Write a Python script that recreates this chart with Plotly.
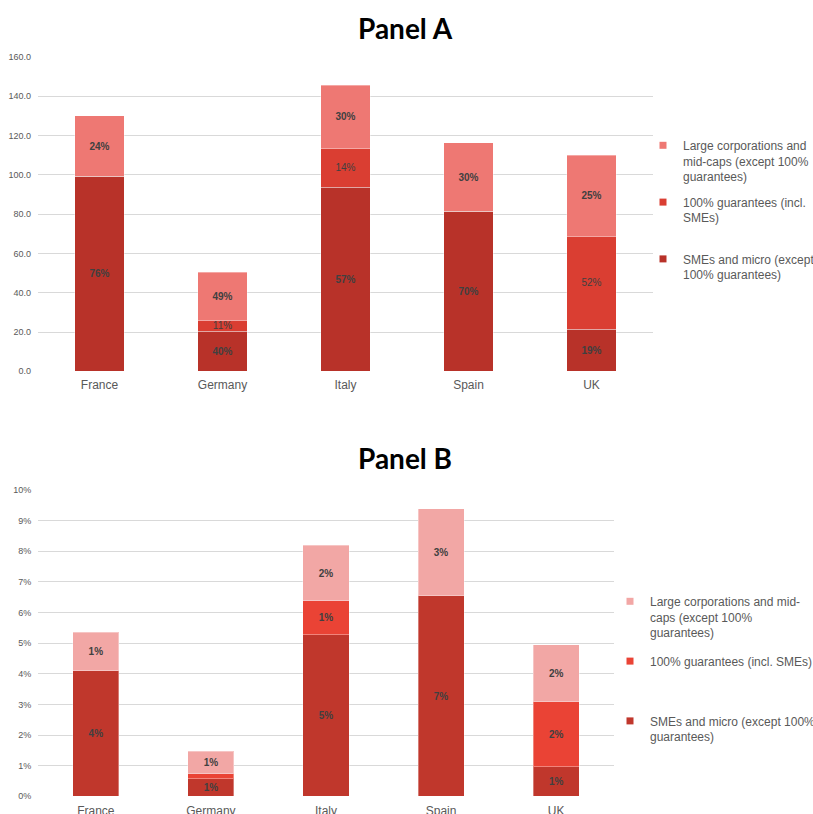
import plotly.graph_objects as go

# Categories
countries = ["France", "Germany", "Italy", "Spain", "UK"]

# Panel A: amounts by segment (EUR bn)
a_sme = [99.2, 20.4, 93.8, 81.5, 21.4]
a_full = [0.0, 5.4, 19.6, 0.0, 47.2]
a_large = [30.8, 24.6, 32.3, 34.8, 41.3]
a_sme_lbl = ["76%", "40%", "57%", "70%", "19%"]
a_full_lbl = ["", "11%", "14%", "", "52%"]
a_large_lbl = ["24%", "49%", "30%", "30%", "25%"]

# Panel B: shares of GDP
b_sme = [0.0410, 0.0057, 0.0528, 0.0654, 0.0097]
b_full = [0.0, 0.0017, 0.0110, 0.0, 0.0212]
b_large = [0.0125, 0.0073, 0.0182, 0.0284, 0.0186]
b_sme_lbl = ["4%", "1%", "5%", "7%", "1%"]
b_full_lbl = ["", "", "1%", "", "2%"]
b_large_lbl = ["1%", "1%", "2%", "3%", "2%"]

# Series names
a_names = ["Large corporations and<br>mid-caps (except 100%<br>guarantees)",
           "100% guarantees (incl.<br>SMEs)<br> ",
           "SMEs and micro (except<br>100% guarantees)<br> "]
b_names = ["Large corporations and mid-<br>caps (except 100%<br>guarantees)",
           "100% guarantees (incl. SMEs)<br> <br> ",
           "SMEs and micro (except 100%<br>guarantees)<br> "]

a_colors = {"sme": "#B83229", "full": "#DA3E32", "large": "#EE7873"}
b_colors = {"sme": "#C0372C", "full": "#EA4335", "large": "#F2A7A5"}

GRID = "#D9D9D9"
TXT = "#595959"
LBL = "#404040"
FONT = "Liberation Sans, Arial, sans-serif"

fig = go.Figure()


def add_bar(y, labels, color, xa, ya, bold=True):
    fig.add_trace(go.Bar(
        x=countries, y=y, text=labels, xaxis=xa, yaxis=ya,
        marker=dict(color=color, line=dict(color="rgba(255,255,255,0.35)", width=1)),
        textposition="inside", insidetextanchor="middle", textangle=0,
        constraintext="none",
        insidetextfont=dict(family=FONT, size=10, color=LBL,
                            weight="bold" if bold else "normal"),
        showlegend=False, hoverinfo="skip",
    ))


# Panel A bars (bottom to top)
add_bar(a_sme, a_sme_lbl, a_colors["sme"], "x", "y")
add_bar(a_full, a_full_lbl, a_colors["full"], "x", "y", bold=False)
add_bar(a_large, a_large_lbl, a_colors["large"], "x", "y")

# Panel B bars
add_bar(b_sme, b_sme_lbl, b_colors["sme"], "x2", "y2")
add_bar(b_full, b_full_lbl, b_colors["full"], "x2", "y2")
add_bar(b_large, b_large_lbl, b_colors["large"], "x2", "y2")


# Legend entries with small square swatches
def add_key(name, color, legend, group, xa, ya):
    fig.add_trace(go.Scatter(
        x=[None], y=[None], mode="markers", name=name, xaxis=xa, yaxis=ya,
        marker=dict(symbol="square", size=7, color=color),
        legend=legend, legendgroup=group, showlegend=True, hoverinfo="skip",
    ))


for name, key in zip(a_names, ["large", "full", "sme"]):
    add_key(name, a_colors[key], "legend", "a_" + key, "x", "y")
for name, key in zip(b_names, ["large", "full", "sme"]):
    add_key(name, b_colors[key], "legend2", "b_" + key, "x2", "y2")

W, H = 813, 814

axis_common = dict(showgrid=True, gridcolor=GRID, gridwidth=1, zeroline=False,
                   showline=False, ticks="", fixedrange=True)

legend_common = dict(
    font=dict(family=FONT, size=12, color=TXT),
    bgcolor="rgba(0,0,0,0)", borderwidth=0, xanchor="left", yanchor="top",
    traceorder="grouped", valign="top", itemwidth=30,
)

fig.update_layout(
    width=W, height=H,
    margin=dict(l=0, r=0, t=0, b=0, autoexpand=False),
    paper_bgcolor="white", plot_bgcolor="white",
    barmode="stack", bargap=0.6,
    showlegend=True,
    xaxis=dict(domain=[38 / W, 653 / W], anchor="y", showgrid=False,
               tickfont=dict(family=FONT, size=12, color=TXT), automargin=False,
               ticks="", showline=False, zeroline=False, ticklabelstandoff=5),
    yaxis=dict(domain=[1 - 371.3 / H, 1 - 57 / H], anchor="x", range=[0, 160],
               dtick=20, tickformat=".1f", automargin=False,
               tickfont=dict(family=FONT, size=9, color=TXT), ticklabelstandoff=6,
               **axis_common),
    xaxis2=dict(domain=[38.3 / W, 613.7 / W], anchor="y2", showgrid=False,
                tickfont=dict(family=FONT, size=12, color=TXT), automargin=False,
                ticks="", showline=False, zeroline=False, ticklabelstandoff=6),
    yaxis2=dict(domain=[1 - 796.3 / H, 1 - 490 / H], anchor="x2", range=[0, 0.10],
                dtick=0.01, tickformat=".0%", automargin=False,
                tickfont=dict(family=FONT, size=9, color=TXT), ticklabelstandoff=6,
                **axis_common),
    legend=dict(x=643 / W, y=1 - 131 / H, tracegroupgap=7, **legend_common),
    legend2=dict(x=610 / W, y=1 - 587 / H, tracegroupgap=10, **legend_common),
    annotations=[
        dict(text="<b>Panel A</b>", x=405 / W, y=1 - 28 / H, xref="paper", yref="paper",
             showarrow=False, xanchor="center", yanchor="middle",
             font=dict(family="Lato, Open Sans, sans-serif", size=28, color="black")),
        dict(text="<b>Panel B</b>", x=405 / W, y=1 - 458 / H, xref="paper", yref="paper",
             showarrow=False, xanchor="center", yanchor="middle",
             font=dict(family="Lato, Open Sans, sans-serif", size=28, color="black")),
    ],
)

fig.write_html("out.html")
